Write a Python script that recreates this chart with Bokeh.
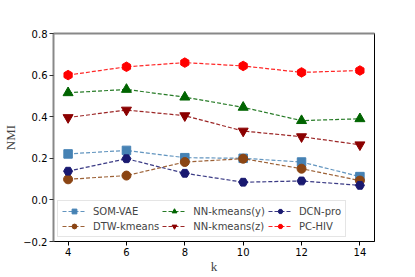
from bokeh.plotting import figure
from bokeh.models import Legend, LegendItem, LinearAxis, FixedTicker, CustomJSTickFormatter, Range1d
from bokeh.embed import file_html
from bokeh.resources import INLINE

k = [4, 6, 8, 10, 12, 14]
som_vae = [0.221, 0.238, 0.203, 0.200, 0.182, 0.112]
dtw_kmeans = [0.099, 0.117, 0.182, 0.198, 0.150, 0.093]
nn_kmeans_y = [0.515, 0.531, 0.494, 0.445, 0.381, 0.390]
nn_kmeans_z = [0.396, 0.432, 0.405, 0.331, 0.304, 0.265]
dcn_pro = [0.138, 0.198, 0.128, 0.085, 0.091, 0.070]
pc_hiv = [0.600, 0.640, 0.660, 0.644, 0.613, 0.622]
y_ticks = [-0.2, 0.0, 0.2, 0.4, 0.6, 0.8]

series = [
    ("SOM-VAE", som_vae, "#4682B4", "square", 8.5),
    ("DTW-kmeans", dtw_kmeans, "#8B4513", "circle", 9),
    ("NN-kmeans(y)", nn_kmeans_y, "#006400", "triangle", 10),
    ("NN-kmeans(z)", nn_kmeans_z, "#8B0000", "inverted_triangle", 10),
    ("DCN-pro", dcn_pro, "#191970", "hex", 9),
    ("PC-HIV", pc_hiv, "#FF0000", "hex", 9.5),
]

p = figure(frame_width=321, frame_height=208, output_backend="svg", toolbar_location=None,
           x_range=Range1d(3.5, 14.5), y_range=Range1d(-0.2, 0.8),
           min_border_left=52, min_border_right=34, min_border_top=33, min_border_bottom=34)
p.xgrid.visible = False
p.ygrid.visible = False
p.outline_line_color = "black"
p.outline_line_width = 1

items = []
for name, vals, color, marker, size in series:
    l = p.line(k, vals, line_color=color, line_dash="4 2", line_width=1.2, line_alpha=0.85)
    if name == "PC-HIV":
        s = p.scatter(k, vals, marker="hex", size=size, fill_color=color, line_color=color, angle=0.5236)
    else:
        s = p.scatter(k, vals, marker=marker, size=size, fill_color=color, line_color=color)
    items.append(LegendItem(label=name, renderers=[l, s]))

legend = Legend(items=items, location="bottom_left", ncols=3, orientation="vertical",
                label_text_font="DejaVu Sans", label_text_font_size="10px",
                label_height=12, glyph_height=12, glyph_width=24, spacing=3,
                label_standoff=7, padding=4, margin=4,
                border_line_color="#cccccc", border_line_width=1,
                background_fill_alpha=0.8)
p.add_layout(legend)

fmt = CustomJSTickFormatter(code="return tick.toFixed(1).replace('-', '\u2212');")
p.xaxis.ticker = FixedTicker(ticks=k)
p.yaxis.ticker = FixedTicker(ticks=y_ticks)
p.yaxis.formatter = fmt
for ax in (p.xaxis[0], p.yaxis[0]):
    ax.major_label_text_font = "DejaVu Sans"
    ax.major_label_text_font_size = "10px"
    ax.major_label_text_color = "black"
    ax.major_tick_in = 0
    ax.major_tick_out = 4
    ax.minor_tick_in = 0
    ax.minor_tick_out = 0
    ax.major_label_standoff = 2
    ax.axis_label_text_font = "Liberation Serif"
    ax.axis_label_text_font_size = "13px"
    ax.axis_label_text_font_style = "normal"
    ax.axis_label_standoff = 2
p.xaxis.axis_label = "k"
p.xaxis.axis_label_standoff = 0
p.yaxis.axis_label = "NMI"
p.xaxis.axis_line_color = "black"
p.yaxis.axis_line_color = "#888888"
p.yaxis.axis_line_width = 2
p.yaxis.major_tick_line_color = "#333333"

top = LinearAxis(major_tick_in=0, major_tick_out=0, minor_tick_in=0, minor_tick_out=0,
                 major_label_text_font_size="0px", axis_line_color="#888888", axis_line_width=2)
top.ticker = FixedTicker(ticks=[])
p.add_layout(top, "above")

open("out.html", "w").write(file_html(p, INLINE))
